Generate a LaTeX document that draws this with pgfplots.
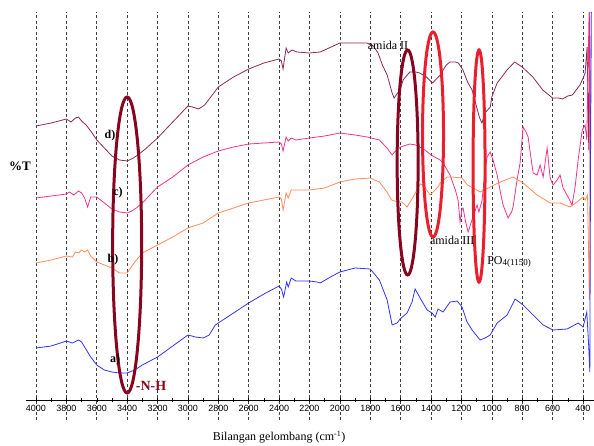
\documentclass[border=0pt]{standalone}
\usepackage{fontspec}
\setmainfont{Liberation Serif}
\setsansfont{Liberation Sans}
\usepackage{pgfplots}
\pgfplotsset{compat=1.18}
\definecolor{cD}{RGB}{140,40,90}
\definecolor{cC}{RGB}{245,50,140}
\definecolor{cB}{RGB}{255,140,90}
\definecolor{cA}{RGB}{50,50,255}
\definecolor{cNH}{RGB}{135,5,30}
\definecolor{cRed}{RGB}{235,30,45}
\begin{document}
\begin{tikzpicture}
\begin{axis}[
  scale only axis, width=568pt, height=408pt,
  x dir=reverse, xmin=327.6, xmax=4065.8, ymin=-20, ymax=388,
  axis x line=middle, axis y line=none,
  xtick={400,600,...,4000},
  minor xtick={500,700,...,3900},
  xmajorgrids,
  major grid style={black!75, dash pattern=on 3pt off 2.5pt, line width=0.6pt},
  ytick=\empty,
  clip=false,
  axis line style={-, black, line width=0.6pt},
  tick style={black, line width=0.5pt},
  major tick length=4pt, minor tick length=4pt,
  /pgf/number format/assume math mode=true,
  xticklabel style={font=\sffamily\fontsize{9}{10}\selectfont, /pgf/number format/1000 sep={}},
]
% d
\addplot[cD, line width=0.8pt] coordinates {
(4000,274)(3900,277)(3800,281)(3770,278)(3740,282)(3720,283)(3700,279)(3670,275)(3640,269)(3600,260)(3550,252)(3500,244)(3450,240)(3400,239)(3360,242)(3330,245)(3280,251)(3200,262)(3100,278)(3000,294)(2970,293)(2930,291)(2890,295)(2850,303)(2800,313)(2700,323)(2600,331)(2500,337)(2400,341)(2385,339)(2374,331)(2354,352)(2340,347)(2315,350)(2282,348)(2200,347)(2130,348)(2000,357)(1900,357)(1822,357)(1780,354)(1749,347)(1720,335)(1689,325)(1656,307)(1643,302)(1620,307)(1604,310)(1584,320)(1540,328)(1500,328)(1475,327)(1430,323)(1390,317)(1340,325)(1300,335)(1275,338)(1240,338)(1220,337)(1190,330)(1160,318)(1130,310)(1100,293)(1080,282)(1065,277)(1045,287)(1010,293)(1000,303)(965,317)(900,330)(850,338)(800,333)(730,323)(665,310)(600,302)(560,302)(535,301)(500,304)(470,305)(420,315)(399,322)(386,327)(373,353)(362,250)(356,388)(350,260)
};
% c
\addplot[cC, line width=0.8pt] coordinates {
(4000,202)(3900,204)(3800,206)(3780,208)(3750,205)(3720,209)(3700,207)(3680,202)(3660,193)(3640,203)(3600,203)(3550,197)(3500,191)(3450,188)(3400,187)(3370,189)(3340,192)(3300,197)(3200,213)(3100,223)(3000,235)(2900,243)(2800,249)(2700,253)(2600,256)(2400,258)(2385,256)(2374,249)(2354,263)(2340,259)(2320,262)(2290,260)(2200,262)(2100,264)(2000,267)(1900,265)(1820,263)(1740,260)(1690,252)(1656,245)(1640,248)(1600,253)(1540,256)(1500,255)(1475,253)(1440,250)(1400,245)(1340,240)(1321,237)(1275,225)(1240,210)(1222,200)(1209,178)(1195,192)(1189,192)(1175,180)(1156,168)(1120,185)(1097,195)(1085,188)(1064,200)(1045,230)(1031,243)(1011,248)(992,240)(965,225)(940,205)(926,195)(893,182)(870,188)(860,193)(834,220)(814,237)(794,273)(775,268)(761,263)(745,245)(728,227)(702,225)(682,235)(662,223)(636,252)(616,222)(597,215)(570,220)(551,225)(531,212)(498,203)(472,195)(452,213)(432,240)(405,270)(386,275)(375,260)(360,388)(352,180)
};
% b
\addplot[cB, line width=0.8pt] coordinates {
(4000,137)(3900,140)(3800,144)(3760,143)(3740,148)(3720,147)(3700,150)(3680,148)(3660,150)(3640,144)(3600,138)(3550,135)(3500,132)(3450,127)(3400,127)(3350,138)(3300,147)(3200,155)(3100,163)(3000,172)(2900,177)(2800,187)(2700,192)(2600,197)(2400,203)(2385,201)(2374,190)(2354,207)(2340,202)(2320,210)(2200,210)(2100,212)(2000,218)(1900,221)(1800,222)(1740,218)(1690,208)(1660,200)(1620,198)(1590,198)(1558,193)(1518,203)(1472,216)(1452,215)(1406,205)(1393,207)(1354,213)(1340,217)(1294,223)(1261,223)(1196,222)(1160,215)(1123,212)(1077,208)(1011,213)(945,218)(860,223)(794,217)(740,210)(702,205)(616,197)(551,197)(485,193)(439,198)(400,203)(385,200)(370,205)(358,100)(352,263)
};
% a
\addplot[cA, line width=0.8pt] coordinates {
(4000,52)(3900,54)(3800,59)(3760,57)(3720,60)(3700,58)(3680,53)(3640,43)(3600,35)(3550,30)(3500,28)(3450,27)(3400,27)(3350,30)(3300,35)(3200,43)(3100,54)(3000,65)(2950,63)(2900,62)(2860,65)(2820,75)(2700,87)(2600,97)(2500,106)(2400,114)(2385,111)(2370,103)(2350,118)(2340,113)(2320,122)(2290,119)(2200,119)(2150,118)(2130,117)(2050,124)(2000,128)(1900,132)(1800,131)(1740,120)(1689,100)(1656,75)(1623,77)(1604,81)(1558,87)(1525,98)(1505,111)(1472,102)(1426,90)(1393,87)(1373,83)(1354,91)(1321,88)(1275,98)(1228,99)(1196,93)(1163,78)(1130,70)(1077,60)(1044,62)(1011,65)(965,77)(899,85)(847,101)(794,95)(728,85)(662,75)(597,70)(504,71)(432,77)(399,73)(375,88)(362,53)(355,28)(350,250)(345,388)
};
% ellipses
\draw[cNH, line width=3pt] (axis cs:3400,155) ellipse [x radius=14.5pt, y radius=148pt];
\draw[cNH, line width=3pt] (axis cs:1554,237.5) ellipse [x radius=10.5pt, y radius=112.5pt];
\draw[cRed, line width=3pt] (axis cs:1387,265.5) ellipse [x radius=10.5pt, y radius=102.5pt];
\draw[cRed, line width=3pt] (axis cs:1084,234) ellipse [x radius=6pt, y radius=116pt];
% labels
\node[font=\bfseries\fontsize{13}{13}\selectfont] at (axis cs:4105,234) {\%T};
\node[font=\bfseries\fontsize{12}{12}\selectfont] at (axis cs:3513,264) {d)};
\node[font=\bfseries\fontsize{12}{12}\selectfont] at (axis cs:3460,207) {c)};
\node[font=\bfseries\fontsize{12}{12}\selectfont] at (axis cs:3493,140) {b)};
\node[font=\bfseries\fontsize{12}{12}\selectfont] at (axis cs:3480,40) {a)};
\node[font=\bfseries\fontsize{14}{14}\selectfont, text=cNH] at (axis cs:3243,14) {-N-H};
\node[font=\fontsize{12}{12}\selectfont] at (axis cs:1683,355) {amida II};
\node[font=\fontsize{12}{12}\selectfont] at (axis cs:1261,160) {amida III};
\node[font=\fontsize{12}{12}\selectfont, anchor=west, inner xsep=0pt] at (axis cs:1031,138) {PO\raisebox{-1.5pt}{\fontsize{9}{9}\selectfont 4(1150)}};
\node[font=\fontsize{12}{12}\selectfont] at (axis cs:2400,-37) {Bilangan gelombang (cm\textsuperscript{-1})};
\coordinate (SW) at (axis cs:4065.8,-20);
\end{axis}
\pgfresetboundingbox
\path (SW) ++(-26pt,-25pt) rectangle ++(594pt,445pt);
\end{tikzpicture}
\end{document}
